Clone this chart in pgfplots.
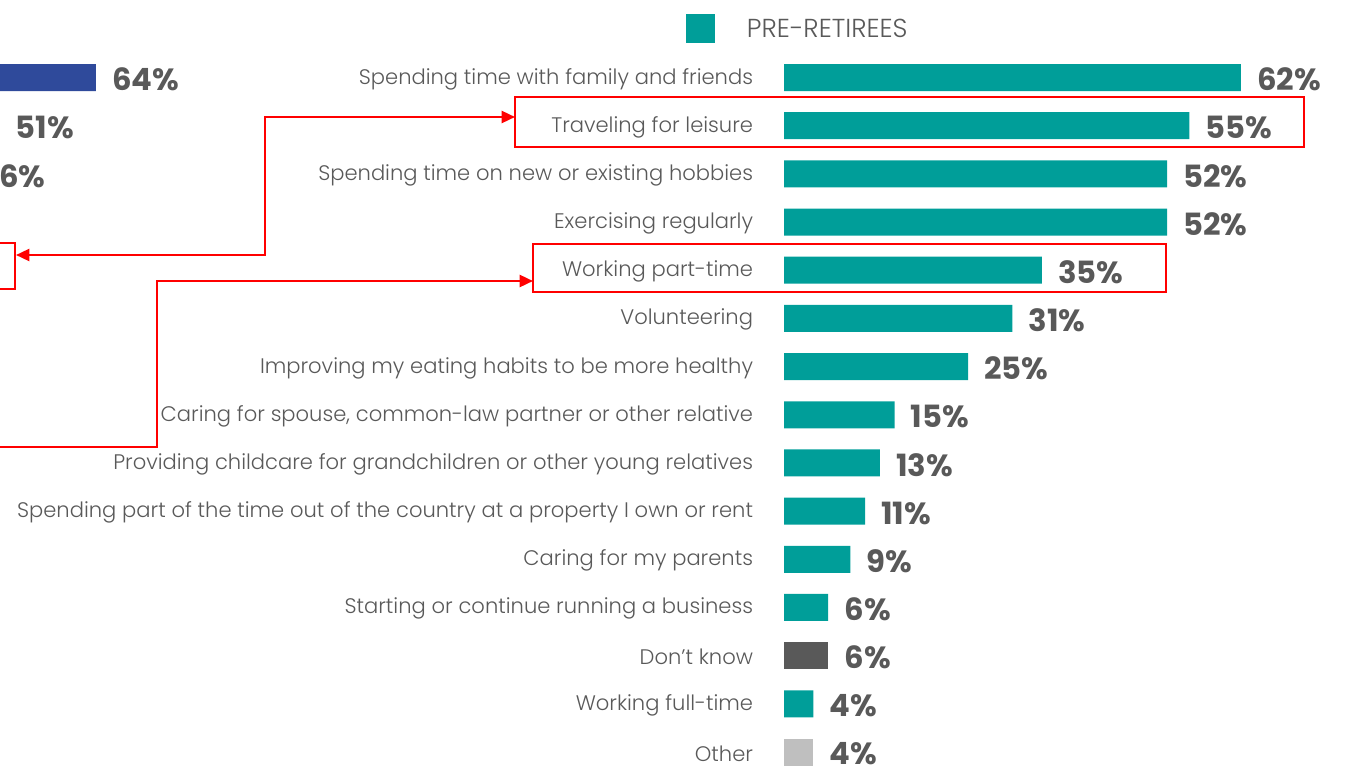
\documentclass[border=0pt]{standalone}
\usepackage{pgfplots}
\pgfplotsset{compat=1.18}
\usepackage{fontspec}
\setmainfont{Poppins}
\newfontfamily\lightfont{Poppins Light}
\usetikzlibrary{arrows.meta}
\definecolor{teal1}{HTML}{009E99}
\definecolor{dgray}{HTML}{595959}
\definecolor{lgray}{HTML}{BFBFBF}
\definecolor{blue1}{HTML}{2F4A9B}
\definecolor{txt}{HTML}{595959}
\definecolor{red1}{HTML}{FF0000}
\pgfplotsset{
  pctlabels/.style={
    point meta=x,
    nodes near coords={\pgfmathprintnumber{\pgfplotspointmeta}\%},
    nodes near coords style={font=\fontsize{23}{27}\selectfont\bfseries, text=txt, anchor=west, inner sep=0pt, xshift=12pt, yshift=-1.5pt},
  }
}
\begin{document}
\begin{tikzpicture}[x=0.75pt,y=-0.75pt]
\path[use as bounding box] (0,0) rectangle (1345,771);
\clip (0,0) rectangle (1345,771);
\coordinate (LA) at (-380,776.1);
\coordinate (MA) at (784,776.1);
% left (cropped) chart
\begin{axis}[
  at={(LA)}, anchor=south west,
  scale only axis, width=357pt, height=542pt,
  xmin=0, xmax=64, ymin=-0.5, ymax=14.5,
  hide axis, clip=false, enlargelimits=false,
  xbar, bar width=20.25pt, bar shift=0pt,
  /pgf/number format/assume math mode=true,
  pctlabels,
]
\addplot[fill=blue1, draw=none] coordinates {(64,14) (51,13) (46,12)};
\end{axis}
% main chart
\begin{axis}[
  at={(MA)}, anchor=south west,
  scale only axis, width=420pt, height=542pt,
  xmin=0, xmax=76, ymin=-0.5, ymax=14.5,
  clip=false, enlargelimits=false,
  axis x line=none, axis y line=left, y axis line style={draw=none},
  xtick=\empty,
  ytick={0,...,14},
  ytick style={draw=none},
  yticklabels={Other, Working full-time, Don’t know, Starting or continue running a business, Caring for my parents, Spending part of the time out of the country at a property I own or rent, Providing childcare for grandchildren or other young relatives, {Caring for spouse, common-law partner or other relative}, Improving my eating habits to be more healthy, Volunteering, Working part-time, Exercising regularly, Spending time on new or existing hobbies, Traveling for leisure, Spending time with family and friends},
  yticklabel style={font=\lightfont\fontsize{15.8}{18}\selectfont, text=txt, anchor=east, inner sep=0pt, xshift=-18.75pt, yshift=-1pt},
  xbar, bar width=20.25pt, bar shift=0pt,
  /pgf/number format/assume math mode=true,
  pctlabels,
  legend style={at={(rel axis cs:-0.175,1.034)}, anchor=west, draw=none, fill=none, inner sep=0pt, outer sep=0pt,
    font=\lightfont\fontsize{19.5}{23}\selectfont, text=txt,
    /tikz/every odd column/.append style={column sep=24pt},
    nodes={inner sep=0pt}},
]
\addplot[fill=teal1, draw=none,
  legend image code/.code={\fill[teal1] (0pt,-10.875pt) rectangle (21.75pt,10.875pt);}]
  coordinates {(62,14) (55,13) (52,12) (52,11) (35,10) (31,9) (25,8) (15,7) (13,6) (11,5) (9,4) (6,3) (4,1)};
\addlegendentry{PRE-RETIREES}
\addplot[fill=dgray, draw=none, forget plot] coordinates {(6,2)};
\addplot[fill=lgray, draw=none, forget plot] coordinates {(4,0)};
\end{axis}
% annotations
\begin{scope}[red1, line width=1.8pt]
\draw (515,97) rectangle (1304,147);
\draw (533,244) rectangle (1166,292);
\draw (-50,243) rectangle (15,289);
\draw[{Triangle[length=10pt,width=9pt]}-{Triangle[length=10pt,width=9pt]}] (16,255) -- (265,255) -- (265,117) -- (515,117);
\draw[-{Triangle[length=10pt,width=9pt]}] (-20,447) -- (157,447) -- (157,281) -- (533,281);
\end{scope}
\end{tikzpicture}
\end{document}
